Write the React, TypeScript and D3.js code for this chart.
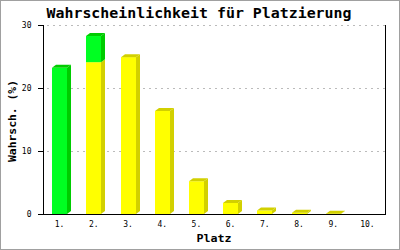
import React from "react";
import * as d3 from "d3";

const categories = ["1.", "2.", "3.", "4.", "5.", "6.", "7.", "8.", "9.", "10."];
const yellowValues = [0, 24.1, 24.9, 16.35, 5.2, 1.75, 0.55, 0.2, 0.05, 0];
const greenValues = [23.2, 4.15, 0, 0, 0, 0, 0, 0, 0, 0];
const yTicks = [0, 10, 20, 30];

const W = 400;
const H = 250;
const left = 43;
const right = 385;
const top = 25;
const bottom = 214;
const DX = 4;
const DY = 3;
const FONT = "'DejaVu Sans Mono', monospace";

const colors = {
  yellow: { front: "#ffff00", dark: "#d2d000" },
  green: { front: "#00ff22", dark: "#00cc00" },
};

export default function App() {
  const x = d3.scaleBand<string>().domain(categories).range([left, right]);
  const y = d3.scaleLinear().domain([0, 30]).range([bottom, top]);

  const bars: React.ReactNode[] = [];
  categories.forEach((c, i) => {
    const cx = (x(c) as number) + x.bandwidth() / 2;
    const x0 = Math.round(cx - 8);
    const x1 = x0 + 15;
    const segs: { v0: number; v1: number; col: { front: string; dark: string } }[] = [];
    let acc = 0;
    if (yellowValues[i] > 0) {
      segs.push({ v0: acc, v1: acc + yellowValues[i], col: colors.yellow });
      acc += yellowValues[i];
    }
    if (greenValues[i] > 0) {
      segs.push({ v0: acc, v1: acc + greenValues[i], col: colors.green });
      acc += greenValues[i];
    }
    segs.forEach((s, j) => {
      const yb = y(s.v0);
      const yt = y(s.v1);
      const isTop = j === segs.length - 1;
      bars.push(
        <g key={`${i}-${j}`}>
          <rect x={x0} y={yt} width={x1 - x0} height={Math.max(0, yb - yt)} fill={s.col.front} />
          <polygon
            points={`${x1},${yb} ${x1},${yt} ${x1 + DX},${yt - DY} ${x1 + DX},${yb - DY}`}
            fill={s.col.dark}
          />
          {isTop && (
            <polygon
              points={`${x0},${yt} ${x0 + DX},${yt - DY} ${x1 + DX},${yt - DY} ${x1},${yt}`}
              fill={s.col.dark}
            />
          )}
        </g>
      );
    });
  });

  return (
    <svg
      width={W}
      height={H}
      style={{ position: "absolute", left: 0, top: 0, display: "block", background: "#fff" }}
    >
      <rect x={0.5} y={0.5} width={W - 1} height={H - 1} fill="#fff" stroke="#a0a0a0" />
      <text
        x={199}
        y={18}
        textAnchor="middle"
        fontFamily={FONT}
        fontWeight="bold"
        fontSize={13.5}
        textLength={305}
        lengthAdjust="spacingAndGlyphs"
      >
        Wahrscheinlichkeit für Platzierung
      </text>
      {yTicks
        .filter((t) => t > 0)
        .map((t) => (
          <line
            key={t}
            x1={left + 4}
            x2={right}
            y1={Math.round(y(t)) + 0.5}
            y2={Math.round(y(t)) + 0.5}
            stroke="#bbbbbb"
            strokeDasharray="2,4"
          />
        ))}
      {bars}
      <line x1={left + 0.5} x2={left + 0.5} y1={top} y2={bottom + 1} stroke="#000" />
      <line x1={right + 0.5} x2={right + 0.5} y1={top} y2={bottom + 1} stroke="#000" />
      <line x1={left - 5} x2={right + 1} y1={bottom + 0.5} y2={bottom + 0.5} stroke="#000" />
      {yTicks.map((t) => (
        <g key={t}>
          <line
            x1={left - 5}
            x2={left}
            y1={Math.round(y(t)) + 0.5}
            y2={Math.round(y(t)) + 0.5}
            stroke="#000"
          />
          <text x={31.5} y={y(t) + 3} textAnchor="end" fontFamily={FONT} fontSize={8}>
            {t}
          </text>
        </g>
      ))}
      {categories.map((c) => (
        <text
          key={c}
          x={(x(c) as number) + x.bandwidth() / 2 - 0.5}
          y={226.5}
          textAnchor="middle"
          fontFamily={FONT}
          fontSize={8}
        >
          {c}
        </text>
      ))}
      <text
        x={(left + right) / 2}
        y={242.3}
        textAnchor="middle"
        fontFamily={FONT}
        fontWeight="bold"
        fontSize={10.5}
        textLength={35}
        lengthAdjust="spacingAndGlyphs"
      >
        Platz
      </text>
      <text
        transform={`translate(15.7,121) rotate(-90)`}
        textAnchor="middle"
        fontFamily={FONT}
        fontWeight="bold"
        fontSize={11}
        textLength={82}
        lengthAdjust="spacingAndGlyphs"
      >
        Wahrsch. (%)
      </text>
    </svg>
  );
}
